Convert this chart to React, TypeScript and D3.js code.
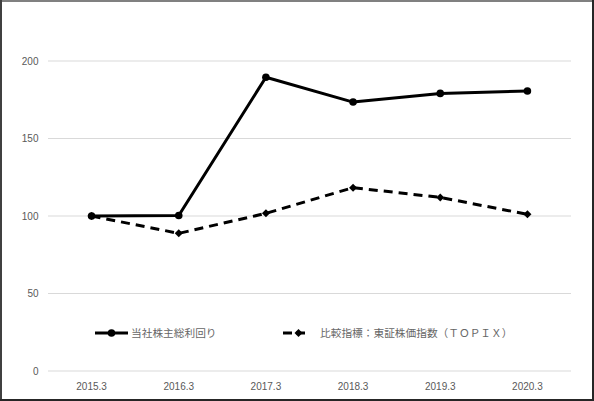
import React from "react";
import * as d3 from "d3";

const categories = ["2015.3", "2016.3", "2017.3", "2018.3", "2019.3", "2020.3"];
const companyTSR = [100, 100.3, 189.5, 173.5, 179.1, 180.6];
const topix = [100, 88.8, 101.7, 118.3, 112.0, 101.1];
const yTicks = [0, 50, 100, 150, 200];
const seriesNames = ["当社株主総利回り", "比較指標：東証株価指数（ＴＯＰＩＸ）"];

const W = 594;
const H = 401;

export default function App() {
  const x = d3.scaleBand<string>().domain(categories).range([48, 571]);
  const y = d3.scaleLinear().domain([0, 200]).range([371, 61]);
  const cx = (c: string) => (x(c) as number) + x.bandwidth() / 2;
  const line = d3
    .line<number>()
    .x((_, i) => cx(categories[i]))
    .y((d) => y(d));
  const diamond = (px: number, py: number, r: number) =>
    `M${px},${py - r}L${px + r},${py}L${px},${py + r}L${px - r},${py}Z`;
  const labelFont = "'Liberation Sans', Arial, sans-serif";
  const cjkFont = "'Noto Sans CJK JP', sans-serif";
  const legendY = 333;

  return (
    <svg
      width={W}
      height={H}
      style={{ position: "absolute", left: 0, top: 0, background: "#fff" }}
    >
      <rect x={0} y={0} width={W} height={H} fill="#fff" />
      {yTicks.map((t) => (
        <g key={t}>
          <line x1={48} x2={571} y1={y(t)} y2={y(t)} stroke="#d9d9d9" strokeWidth={1} />
          <text
            x={38.5}
            y={y(t)}
            dy="0.35em"
            textAnchor="end"
            fontSize={10}
            fill="#595959"
            fontFamily={labelFont}
          >
            {t}
          </text>
        </g>
      ))}
      {categories.map((c) => (
        <text
          key={c}
          x={cx(c)}
          y={386}
          dy="0.35em"
          textAnchor="middle"
          fontSize={10}
          fill="#595959"
          fontFamily={labelFont}
        >
          {c}
        </text>
      ))}
      <path
        d={line(topix) || ""}
        fill="none"
        stroke="#000"
        strokeWidth={3}
        strokeDasharray="9,6"
        strokeLinejoin="round"
      />
      {topix.map((v, i) => (
        <path key={i} d={diamond(cx(categories[i]), y(v), 4)} fill="#000" />
      ))}
      <path
        d={line(companyTSR) || ""}
        fill="none"
        stroke="#000"
        strokeWidth={3}
        strokeLinejoin="round"
      />
      {companyTSR.map((v, i) => (
        <circle key={i} cx={cx(categories[i])} cy={y(v)} r={3.8} fill="#000" />
      ))}
      {/* legend */}
      <line x1={95} x2={128} y1={legendY} y2={legendY} stroke="#000" strokeWidth={3} />
      <circle cx={111.5} cy={legendY} r={3.8} fill="#000" />
      <text
        x={131}
        y={legendY}
        dy="0.36em"
        fontSize={10.7}
        fill="#666"
        fontFamily={cjkFont}
      >
        {seriesNames[0]}
      </text>
      <line
        x1={283}
        x2={314}
        y1={legendY}
        y2={legendY}
        stroke="#000"
        strokeWidth={3}
        strokeDasharray="9,4,9"
      />
      <path d={diamond(298.5, legendY, 4)} fill="#000" />
      <text
        x={320}
        y={legendY}
        dy="0.36em"
        fontSize={10.7}
        fill="#666"
        fontFamily={cjkFont}
      >
        {seriesNames[1]}
      </text>
      {/* frame */}
      <line x1={0} x2={W} y1={1} y2={1} stroke="#808080" strokeWidth={2} />
      <line x1={1} x2={1} y1={0} y2={H} stroke="#404040" strokeWidth={2} />
      <line x1={W - 1} x2={W - 1} y1={0} y2={H} stroke="#262626" strokeWidth={2} />
      <line x1={0} x2={W} y1={H - 1} y2={H - 1} stroke="#262626" strokeWidth={2} />
    </svg>
  );
}
